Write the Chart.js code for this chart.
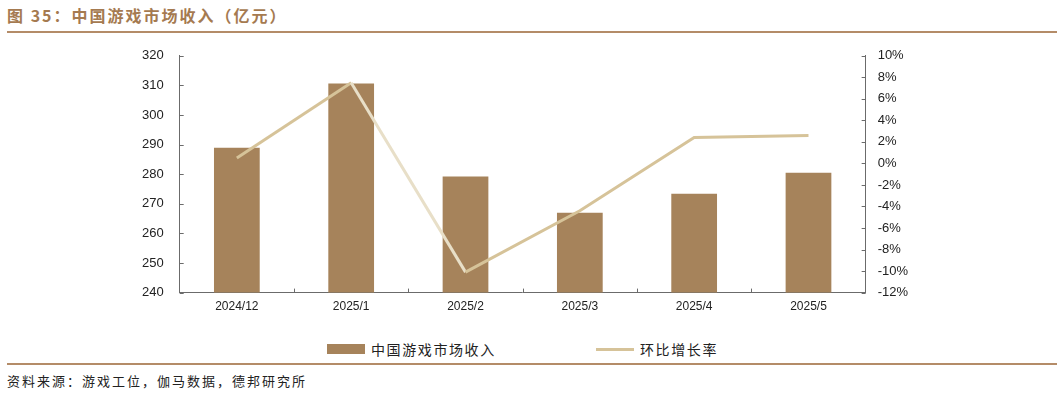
<!DOCTYPE html>
<html lang="zh-CN">
<head>
<meta charset="utf-8">
<title>中国游戏市场收入</title>
<script src="https://cdn.jsdelivr.net/npm/chart.js@4.4.1/dist/chart.umd.min.js"></script>
<style>
  html, body {
    margin: 0;
    padding: 0;
    background: #fff;
  }
  body {
    width: 1063px;
    height: 405px;
    position: relative;
    overflow: hidden;
    font-family: "Noto Sans CJK SC", "Noto Sans", sans-serif;
  }
  .title {
    position: absolute;
    left: 7px;
    top: 5px;
    font-size: 16px;
    font-weight: bold;
    letter-spacing: 2px;
    color: #a57a50;
    line-height: 20px;
  }
  .rule {
    position: absolute;
    left: 7px;
    width: 1050px;
    height: 2px;
    background: #b48c68;
  }
  .chart-box {
    position: absolute;
    left: 0;
    top: 32px;
    width: 1063px;
    height: 294px;
  }
  .legend {
    position: absolute;
    top: 339px;
    left: 0;
    width: 1063px;
    height: 20px;
  }
  .legend-item {
    position: absolute;
    top: 0;
    height: 20px;
    display: flex;
    align-items: center;
    font-size: 14px;
    letter-spacing: 1.6px;
    color: #222;
  }
  .legend-item .swatch {
    width: 38px;
    margin-right: 6px;
  }
  .source {
    position: absolute;
    left: 7px;
    top: 372px;
    font-size: 13px;
    letter-spacing: 2px;
    color: #222;
    line-height: 18px;
  }
</style>
</head>
<body>
<div class="title">图 35：中国游戏市场收入（亿元）</div>
<div class="rule" style="top: 31px;"></div>

<div class="chart-box"><canvas id="gameChart"></canvas></div>

<div class="legend" id="legend"></div>
<div class="rule" style="top: 363px;"></div>
<div class="source">资料来源：游戏工位，伽马数据，德邦研究所</div>

<script>
const months = ["2024/12", "2025/1", "2025/2", "2025/3", "2025/4", "2025/5"];
const revenue = [288.9, 310.6, 279.2, 267.0, 273.4, 280.5];
const momGrowth = [0.5, 7.5, -10.1, -4.4, 2.4, 2.6];

const revenueTicks = { min: 240, max: 320, step: 10 };
const growthTicks = { min: -12, max: 10, step: 2 };

const barColor = "#a6835b";
const lineColor = "#d6c399";
const lineFaded = "#e8dfc8";
const axisColor = "#6b6b6b";

// Ticks in the reference point into the plot, so draw them ourselves
const inwardTicks = {
  id: "inwardTicks",
  afterDraw(chart) {
    const { ctx, scales } = chart;
    const len = 4;
    ctx.save();
    ctx.strokeStyle = axisColor;
    ctx.lineWidth = 1;
    ctx.beginPath();

    const left = scales.y;
    left.ticks.forEach((t, i) => {
      const y = Math.round(left.getPixelForTick(i)) + 0.5;
      ctx.moveTo(left.right, y);
      ctx.lineTo(left.right + len, y);
    });

    const right = scales.y1;
    right.ticks.forEach((t, i) => {
      const y = Math.round(right.getPixelForTick(i)) + 0.5;
      ctx.moveTo(right.left - len, y);
      ctx.lineTo(right.left, y);
    });

    const x = scales.x;
    for (let i = 1; i < months.length; i++) {
      const px = Math.round(x.getPixelForValue(i - 0.5)) + 0.5;
      ctx.moveTo(px, x.top);
      ctx.lineTo(px, x.top - len);
    }

    ctx.stroke();
    ctx.restore();
  }
};

const tickFont = { family: "'Liberation Sans', Arial, sans-serif", size: 13 };

const chart = new Chart(document.getElementById("gameChart"), {
  data: {
    labels: months,
    datasets: [
      {
        type: "bar",
        label: "中国游戏市场收入",
        data: revenue,
        yAxisID: "y",
        backgroundColor: barColor,
        categoryPercentage: 1,
        barPercentage: 0.4,
        order: 2
      },
      {
        type: "line",
        label: "环比增长率",
        data: momGrowth,
        yAxisID: "y1",
        borderColor: lineColor,
        borderWidth: 3,
        pointRadius: 0,
        tension: 0,
        segment: {
          borderColor: (ctx) => (ctx.p0DataIndex === 1 ? lineFaded : lineColor)
        },
        order: 1
      }
    ]
  },
  options: {
    responsive: true,
    maintainAspectRatio: false,
    animation: false,
    layout: {
      padding: { left: 126, right: 143, top: 11, bottom: 5 }
    },
    plugins: {
      legend: { display: false },
      tooltip: { enabled: false }
    },
    scales: {
      x: {
        offset: true,
        grid: { display: false, drawTicks: false },
        border: { color: axisColor, width: 1 },
        ticks: {
          color: "#222",
          padding: 7,
          maxRotation: 0,
          autoSkip: false,
          font: { family: tickFont.family, size: 12 }
        }
      },
      y: {
        position: "left",
        min: revenueTicks.min,
        max: revenueTicks.max,
        grid: { display: false, drawTicks: false },
        border: { color: axisColor, width: 1 },
        ticks: {
          stepSize: revenueTicks.step,
          color: "#222",
          padding: 16,
          font: tickFont
        }
      },
      y1: {
        position: "right",
        min: growthTicks.min,
        max: growthTicks.max,
        grid: { display: false, drawTicks: false },
        border: { color: axisColor, width: 1 },
        ticks: {
          stepSize: growthTicks.step,
          color: "#222",
          padding: 12,
          font: tickFont,
          callback: (value) => value + "%"
        }
      }
    }
  },
  plugins: [inwardTicks]
});

// Legend laid out like the source figure, built from the chart's datasets
function renderLegend() {
  const legendNode = document.getElementById("legend");
  const positions = [327, 596];
  legendNode.innerHTML = chart.data.datasets
    .map((ds, i) => {
      const swatch = ds.type === "bar"
        ? `<span class="swatch" style="height:10px;background:${ds.backgroundColor}"></span>`
        : `<span class="swatch" style="height:3px;background:${ds.borderColor}"></span>`;
      return `<div class="legend-item" style="left:${positions[i]}px">${swatch}${ds.label}</div>`;
    })
    .join("");
}

renderLegend();
</script>
</body>
</html>
